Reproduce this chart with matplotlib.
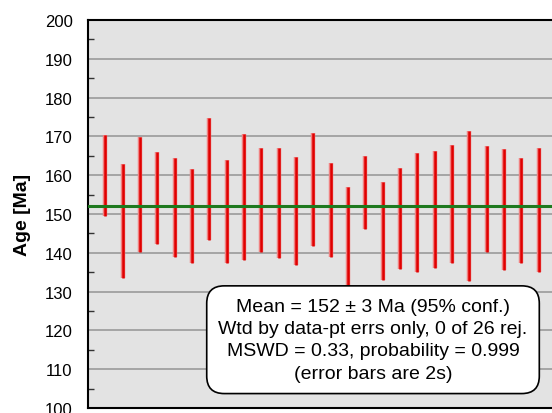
import numpy as np
import matplotlib
matplotlib.use("Agg")
import matplotlib.pyplot as plt
from matplotlib.ticker import MultipleLocator

plt.rcParams["font.family"] = ["Liberation Sans", "DejaVu Sans"]

# error bar ends (2s), Ma
upper = [170.4, 162.9, 169.9, 165.9, 164.4, 161.6, 174.7, 163.8, 170.6, 167.1,
         167.0, 164.8, 170.8, 163.1, 156.9, 164.9, 158.2, 161.9, 165.6, 166.3,
         167.8, 171.4, 167.5, 166.7, 164.4, 167.0]
lower = [149.6, 133.5, 140.1, 142.2, 139.0, 137.4, 143.2, 137.5, 138.1, 140.1,
         138.7, 136.9, 141.8, 139.0, 131.0, 146.1, 133.0, 135.8, 135.0, 136.0,
         137.5, 132.7, 140.1, 135.6, 137.3, 135.0]
mean_age = 152.1

info_lines = ["Mean = 152 ± 3 Ma (95% conf.)",
              "Wtd by data-pt errs only, 0 of 26 rej.",
              "MSWD = 0.33, probability = 0.999",
              "(error bars are 2s)"]

n = len(upper)
x = np.arange(1, n + 1)

fig = plt.figure(figsize=(5.52, 4.14), dpi=100)
ax = fig.add_axes([88 / 552, 5 / 414, 468 / 552, 388 / 414])
ax.set_facecolor("#e3e3e3")

ax.set_xlim(0, n + 1)
ax.set_ylim(100, 200)
ax.yaxis.set_major_locator(MultipleLocator(10))
ax.yaxis.set_minor_locator(MultipleLocator(5))
ax.grid(axis="y", which="major", color="#a0a0a0", linewidth=1.3, zorder=1)
ax.set_xticks([])
ax.tick_params(axis="y", which="major", length=0, labelsize=12, pad=11)
ax.tick_params(axis="y", which="minor", direction="in", length=4, width=1, color="#333333")

# bars
ax.vlines(x, lower, upper, color="#f08080", linewidth=3.2, zorder=2)
ax.vlines(x, lower, upper, color="#e00000", linewidth=1.8, zorder=3)

ax.axhline(mean_age, color="#1f7a1f", linewidth=2.2, zorder=4)

for side in ["top", "bottom", "left"]:
    ax.spines[side].set_linewidth(1.5)
    ax.spines[side].set_color("black")
ax.spines["right"].set_visible(False)

ax.set_ylabel("Age [Ma]", fontsize=14, fontweight="bold", labelpad=10)

ax.text(0.609, 0.176, "\n".join(info_lines), transform=ax.transAxes,
        ha="center", va="center", fontsize=14, linespacing=1.42, zorder=6,
        bbox=dict(boxstyle="round,pad=0.6,rounding_size=0.9", facecolor="white",
                  edgecolor="black", linewidth=1.2))

fig.savefig("out.png", dpi=100)
